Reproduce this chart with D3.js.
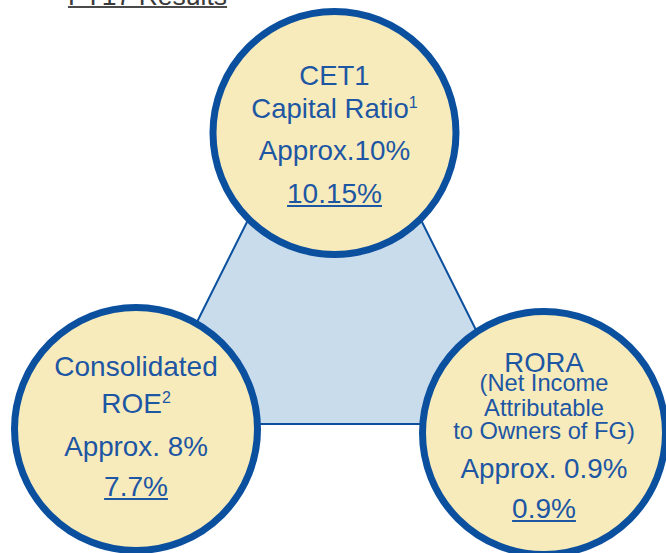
<!DOCTYPE html>
<html>
<head>
<meta charset="utf-8">
<script src="https://cdn.jsdelivr.net/npm/d3@7"></script>
<style>
  html, body { margin: 0; padding: 0; background: #ffffff; }
  svg { display: block; }
</style>
</head>
<body>
<svg id="chart" width="666" height="553"></svg>
<script>
// ---- data ----
const pageTitle = "FY17 Results";
const metricIds = ["cet1", "roe", "rora"];
const metricTitles = [["CET1", "Capital Ratio"], ["Consolidated", "ROE"], ["RORA"]];
const metricNotes = ["1", "2", ""];
const metricSubtitles = [[], [], ["(Net Income", "Attributable", "to Owners of FG)"]];
const metricTargets = ["Approx.10%", "Approx. 8%", "Approx. 0.9%"];
const metricResults = ["10.15%", "7.7%", "0.9%"];

// ---- layout ----
const W = 666, H = 553;
const svg = d3.select("#chart");
const FONT = "'Liberation Sans', Arial, Helvetica, sans-serif";
const BLUE = "#0b4f9f", TEXT = "#1d56a3", FILL = "#f8ebbb", TRI = "#c9dcec";

// position scales for node placement (layout space -> pixels)
const x = d3.scaleLinear().domain([0, 1]).range([136, 544]);
const y = d3.scaleLinear().domain([0, 1]).range([133, 430]);
const nodePos = { cet1: [0.4865, 0], roe: [0, 0.9966], rora: [1, 1.0101] };

// background triangle
const triPts = [[0.4865, -0.2896], [0.0245, 0.9798], [0.9485, 0.9798]];
svg.append("path")
  .attr("d", d3.line().x(p => x(p[0])).y(p => y(p[1])).curve(d3.curveLinearClosed)(triPts))
  .attr("fill", TRI).attr("stroke", BLUE).attr("stroke-width", 2);

// title
const title = svg.append("text").attr("x", 68).attr("y", 5)
  .attr("font-family", FONT).attr("font-size", 26.5).attr("fill", "#3a3a3a").text(pageTitle);
const tw = title.node().getComputedTextLength();
svg.append("line").attr("x1", 68).attr("x2", 68 + tw).attr("y1", 7).attr("y2", 7)
  .attr("stroke", "#4a4a4a").attr("stroke-width", 2);

// line offsets (relative to circle centre)
const layouts = {
  cet1: { title: [-48, -15], sub: [], target: 27, result: 70, titleSize: 27.5 },
  roe:  { title: [-53, -16], sub: [], target: 27, result: 67, titleSize: 28 },
  rora: { title: [-61], sub: [-42, -17, 6], target: 45, result: 85, titleSize: 27.5 }
};

metricIds.forEach((id, i) => {
  const cx = x(nodePos[id][0]), cy = y(nodePos[id][1]);
  const L = layouts[id];
  const g = svg.append("g").attr("transform", `translate(${cx},${cy})`);
  g.append("circle").attr("r", 121.5).attr("fill", FILL).attr("stroke", BLUE).attr("stroke-width", 7);

  const txt = (dy, size) => g.append("text").attr("x", 0).attr("y", dy)
    .attr("text-anchor", "middle").attr("font-family", FONT).attr("font-size", size).attr("fill", TEXT);

  metricTitles[i].forEach((t, k) => {
    const el = txt(L.title[k], L.titleSize);
    el.append("tspan").text(t);
    if (k === metricTitles[i].length - 1 && metricNotes[i]) {
      el.append("tspan").attr("font-size", 16).attr("dy", -10).text(metricNotes[i]);
    }
  });
  metricSubtitles[i].forEach((t, k) => txt(L.sub[k], 23.7).text(t));
  txt(L.target, 27.8).text(metricTargets[i]);
  const r = txt(L.result, 28).text(metricResults[i]);
  const rw = r.node().getComputedTextLength();
  g.append("line").attr("x1", -rw / 2).attr("x2", rw / 2)
    .attr("y1", L.result + 3).attr("y2", L.result + 3)
    .attr("stroke", TEXT).attr("stroke-width", 1.8);
});
</script>
</body>
</html>
